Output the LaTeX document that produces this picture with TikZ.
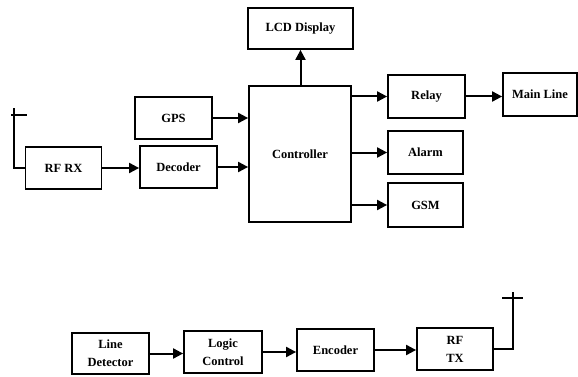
\documentclass[tikz,border=0pt]{standalone}
\usepackage{fontspec}
\setmainfont{Liberation Serif}
\usetikzlibrary{arrows.meta}
\begin{document}
\begin{tikzpicture}[
	x=1pt,y=-1pt,
	font=\fontsize{12.5}{18}\selectfont\bfseries,
	blk/.style={draw,line width=1.8pt,minimum width=77pt,minimum height=42pt,inner sep=1pt,align=center},
	sig/.style={line width=2pt,-{Triangle[length=10pt,width=10pt]}},
	ant/.style={line width=1.6pt},
	]
\useasboundingbox (0,0) rectangle (578,377);
% receiver side
\node [blk,minimum width=105pt,minimum height=41pt] (lcd) at (300.5,28.5) {LCD Display};
\node [blk,minimum width=102pt,minimum height=136pt] (ctrl) at (300,154) {Controller};
\node [blk] (gps) at (173.5,118) {GPS};
\node [blk] (dec) at (178.5,167) {Decoder};
\node [blk,minimum width=76pt] (rfrx) at (63.5,168) {RF RX};
\node [blk,minimum height=43pt] (relay) at (426.5,96.5) {Relay};
\node [blk,minimum width=74pt,minimum height=43pt] (main) at (540,94.5) {Main Line};
\node [blk,minimum width=75pt,minimum height=43pt] (alarm) at (425.5,152.5) {Alarm};
\node [blk,minimum width=75pt,minimum height=44pt] (gsm) at (425.5,205) {GSM};
% transmitter side
\node [blk,minimum height=41pt] (det) at (110.5,353.5) {Line\\Detector};
\node [blk,minimum width=78pt] (logic) at (223,352) {Logic\\Control};
\node [blk] (enc) at (335.5,350) {Encoder};
\node [blk,minimum width=76pt] (rftx) at (455,349) {RF\\TX};
% antennas
\coordinate (rxtop) at (14,108);
\coordinate (rxbarl) at (11,115);
\coordinate (rxbarr) at (27,115);
\coordinate (txtop) at (513,292);
\coordinate (txbarl) at (502,298);
\coordinate (txbarr) at (523,298);
\draw [ant] (rfrx.west) -| (rxtop);
\draw [ant] (rxbarl) -- (rxbarr);
\draw [ant] (rftx.east) -| (txtop);
\draw [ant] (txbarl) -- (txbarr);
% signals
\draw [sig] (rfrx.east) -- (rfrx.east -| dec.west);
\draw [sig] (gps.east) -- (gps.east -| ctrl.west);
\draw [sig] (dec.east) -- (dec.east -| ctrl.west);
\draw [sig] (ctrl.north -| lcd) -- (lcd.south);
\draw [sig] (ctrl.east |- relay) -- (relay);
\draw [sig] (relay.east) -- (relay.east -| main.west);
\draw [sig] (ctrl.east |- alarm) -- (alarm);
\draw [sig] (ctrl.east |- gsm) -- (gsm);
\draw [sig] (det.east) -- (det.east -| logic.west);
\draw [sig] (logic.east) -- (logic.east -| enc.west);
\draw [sig] (enc.east) -- (enc.east -| rftx.west);
\end{tikzpicture}
\end{document}
